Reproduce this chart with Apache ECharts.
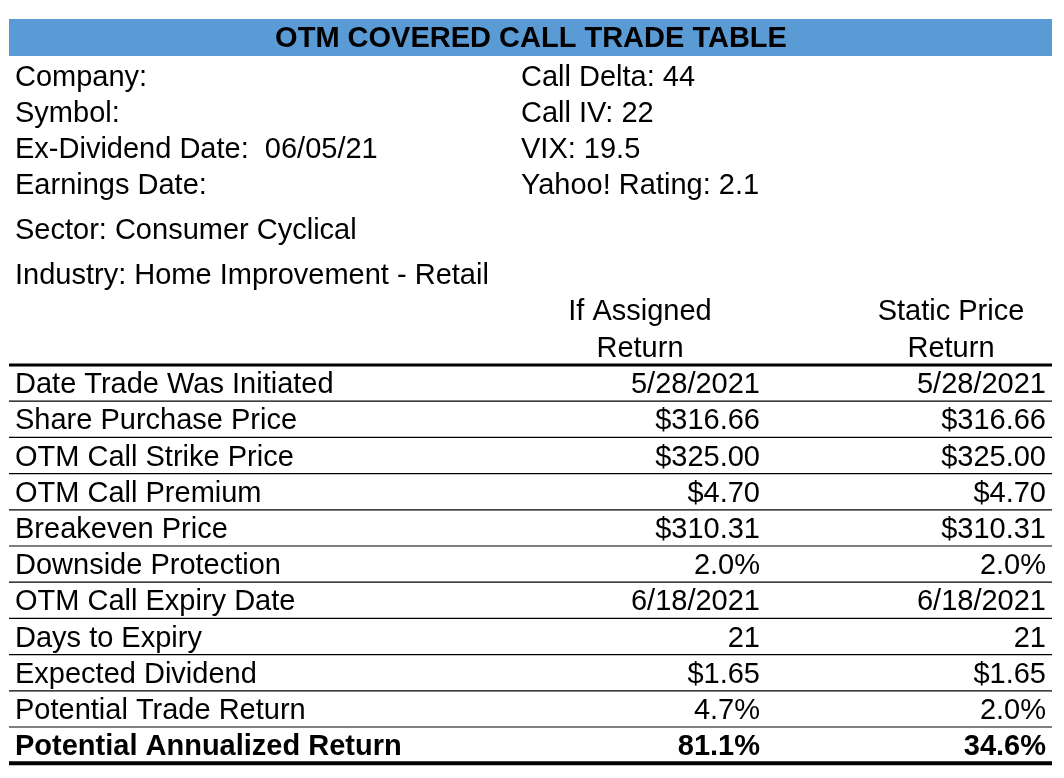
<!DOCTYPE html>
<html><head><meta charset="utf-8">
<script src="https://cdn.jsdelivr.net/npm/echarts@6/dist/echarts.min.js"></script>
<style>html,body{margin:0;padding:0;background:#fff}#c{width:1064px;height:778px}</style>
</head><body><div id="c"></div>
<script>
const title = 'OTM COVERED CALL TRADE TABLE';
const infoLeft = ['Company:', 'Symbol:', 'Ex-Dividend Date:  06/05/21', 'Earnings Date:'];
const infoRight = ['Call Delta: 44', 'Call IV: 22', 'VIX: 19.5', 'Yahoo! Rating: 2.1'];
const extraInfo = ['Sector: Consumer Cyclical', 'Industry: Home Improvement - Retail'];
const colHeaders = [['If Assigned', 'Return'], ['Static Price', 'Return']];
const rowLabels = ['Date Trade Was Initiated', 'Share Purchase Price', 'OTM Call Strike Price', 'OTM Call Premium',
  'Breakeven Price', 'Downside Protection', 'OTM Call Expiry Date', 'Days to Expiry', 'Expected Dividend',
  'Potential Trade Return', 'Potential Annualized Return'];
const assigned = ['5/28/2021', '$316.66', '$325.00', '$4.70', '$310.31', '2.0%', '6/18/2021', '21', '$1.65', '4.7%', '81.1%'];
const staticRet = ['5/28/2021', '$316.66', '$325.00', '$4.70', '$310.31', '2.0%', '6/18/2021', '21', '$1.65', '2.0%', '34.6%'];

(function () {
const FONT = "'Liberation Sans', Arial, sans-serif";
const FS = 29;
const L = 9, R = 1052;
const DY = 2;
const g = [];
function txt(t, x, y, align, bold) {
  g.push({type: 'text', style: {text: t, x: x, y: y + DY, font: (bold ? 'bold ' : '') + FS + 'px ' + FONT,
    fill: '#000', textAlign: align || 'left', textVerticalAlign: 'middle'}});
}
function line(y, w) {
  g.push({type: 'rect', shape: {x: L, y: y - w / 2, width: R - L, height: w}, style: {fill: '#000'}});
}
g.push({type: 'rect', shape: {x: L, y: 19, width: R - L, height: 37}, style: {fill: '#5b9bd5'}});
txt(title, 531, 37, 'center', true);
infoLeft.forEach((t, i) => txt(t, 15, 76 + i * 36, 'left'));
infoRight.forEach((t, i) => txt(t, 521, 76 + i * 36, 'left'));
extraInfo.forEach((t, i) => txt(t, 15, 229 + i * 45, 'left'));
const colX = [760, 1046];
const colC = [640, 951];
colHeaders.forEach((h, c) => { txt(h[0], colC[c], 310, 'center'); txt(h[1], colC[c], 347, 'center'); });
const y0 = 365, rh = 36.2;
line(y0, 3);
rowLabels.forEach((lab, i) => {
  const cy = y0 + rh * i + rh / 2;
  const bold = i === rowLabels.length - 1;
  txt(lab, 15, cy, 'left', bold);
  txt(assigned[i], colX[0], cy, 'right', bold);
  txt(staticRet[i], colX[1], cy, 'right', bold);
  if (i < rowLabels.length - 1) line(y0 + rh * (i + 1), 1.2);
});
line(y0 + rh * rowLabels.length, 4);

const chart = echarts.init(document.getElementById('c'), null, {renderer: 'canvas'});
chart.setOption({animation: false, backgroundColor: '#fff', graphic: g});
})();
</script></body></html>
